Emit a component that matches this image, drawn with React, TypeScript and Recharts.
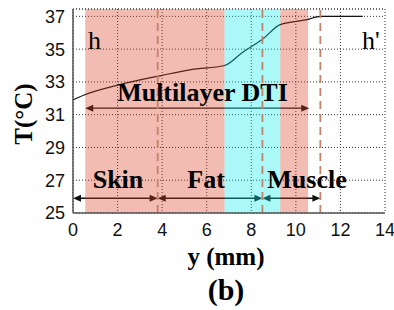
import React from 'react';
import { LineChart, Line, XAxis, YAxis, CartesianGrid, ReferenceArea, ReferenceLine, ReferenceDot } from 'recharts';

const depthMm = [0, 0.5, 2, 4, 5.3, 6.8, 7.6, 8.5, 9.3, 10.5, 11.1, 13.0];
const tempC = [31.9, 32.2, 32.8, 33.4, 33.75, 34.0, 34.8, 35.6, 36.5, 36.8, 37.0, 37.0];
const xTicks = [0, 2, 4, 6, 8, 10, 12, 14];
const yTicks = [25, 27, 29, 31, 33, 35, 37];
const yTop = 37.45;

const regionStarts = [0.55, 6.8, 9.3];
const regionEnds = [6.8, 9.3, 10.55];
const regionColors = ['#DA4023', '#0CEBEB', '#DA4023'];

const boundaries = [3.8, 8.5, 11.1];

const layerNames = ['Skin', 'Fat', 'Muscle'];
const layerFrom = [0, 3.8, 8.5];
const layerTo = [3.8, 8.5, 11.1];
const layerLabelX = [2.02, 5.97, 10.5];
const layerArrowT = 25.9;
const layerLabelT = 26.53;

const dtiLabel = 'Multilayer DTI';
const dtiFrom = 0.55;
const dtiTo = 10.6;
const dtiT = 31.4;
const dtiLabelX = 5.81;
const dtiLabelT = 31.82;

const hLabels = ['h', "h'"];
const hLabelX = [0.67, 12.97];
const hLabelT = 35.0;

const data = depthMm.map((d, i) => ({ y: d, t: tempC[i] }));

const serif = '"Liberation Serif", "Times New Roman", serif';
const sans = '"Liberation Sans", Arial, sans-serif';

const arrowShape = (color: string) => (props: any) => {
  const { x1, y1, x2, y2 } = props;
  const L = 8;
  const W = 3.5;
  return (
    <g>
      <line x1={x1 + 4} y1={y1} x2={x2 - 4} y2={y2} stroke={color} strokeWidth={1.3} />
      <polygon points={`${x1},${y1} ${x1 + L},${y1 - W} ${x1 + L},${y1 + W}`} fill={color} />
      <polygon points={`${x2},${y2} ${x2 - L},${y2 - W} ${x2 - L},${y2 + W}`} fill={color} />
    </g>
  );
};

const textShape = (txt: string, size: number, bold: boolean, anchor: string) => (props: any) => (
  <text
    x={props.cx}
    y={props.cy}
    textAnchor={anchor}
    fontFamily={serif}
    fontWeight={bold ? 'bold' : 'normal'}
    fontSize={size}
    fill="#000"
  >
    {txt}
  </text>
);

export default function App() {
  return (
    <div style={{ position: 'absolute', left: 0, top: 0, background: '#fff' }}>
      <LineChart width={394} height={310} data={data} margin={{ top: 9, right: 9, left: 13, bottom: 67 }}>
        <CartesianGrid stroke="#333" strokeDasharray="1 2" strokeWidth={1} />
        <XAxis
          dataKey="y"
          type="number"
          domain={[0, 14]}
          ticks={xTicks}
          height={30}
          tickSize={0}
          tickMargin={10}
          stroke="#555"
          strokeWidth={1.5}
          tick={{ fill: '#111', fontSize: 18, fontFamily: sans }}
          label={{
            content: (p: any) => {
              const vb = p.viewBox;
              const cx = vb.x + vb.width / 2 - 3;
              return (
                <g>
                  <text x={cx} y={vb.y + 52} textAnchor="middle" fontFamily={serif} fontWeight="bold" fontSize={25} fill="#000">y (mm)</text>
                  <text x={cx} y={vb.y + 87} textAnchor="middle" fontFamily={serif} fontWeight="bold" fontSize={30} fill="#000">(b)</text>
                </g>
              );
            },
          }}
        />
        <YAxis
          type="number"
          domain={[25, yTop]}
          ticks={yTicks}
          width={60}
          tickSize={0}
          tickMargin={8}
          stroke="#555"
          strokeWidth={1.5}
          allowDataOverflow
          tick={{ fill: '#111', fontSize: 18, fontFamily: sans }}
          label={{
            content: () => (
              <text x={32} y={114} transform="rotate(-90 32 114)" textAnchor="middle" fontFamily={serif} fontWeight="bold" fontSize={25} fill="#000">T(°C)</text>
            ),
          }}
        />
        <ReferenceLine y={yTop} stroke="#333" strokeDasharray="1 2" />
        <Line type="monotone" dataKey="t" stroke="#111" strokeWidth={1.2} dot={false} isAnimationActive={false} />
        <ReferenceLine segment={[{ x: dtiFrom, y: dtiT }, { x: dtiTo, y: dtiT }]} shape={arrowShape('#111')} zIndex={400} />
        {layerNames.map((n, i) => (
          <ReferenceLine
            key={'a' + n}
            segment={[{ x: layerFrom[i], y: layerArrowT }, { x: layerTo[i], y: layerArrowT }]}
            shape={arrowShape('#111')}
            zIndex={400}
          />
        ))}
        {regionStarts.map((s, i) => (
          <ReferenceArea key={'r' + i} x1={s} x2={regionEnds[i]} y1={25} y2={yTop} fill={regionColors[i]} fillOpacity={0.35} stroke="none" zIndex={450} />
        ))}
        {boundaries.map((b) => (
          <ReferenceLine key={'b' + b} x={b} stroke="#C4826C" strokeWidth={1.8} strokeDasharray="8 5" zIndex={460} />
        ))}
        {hLabels.map((h, i) => (
          <ReferenceDot key={'h' + i} x={hLabelX[i]} y={hLabelT} r={0} shape={textShape(h, 26, false, 'start')} zIndex={700} />
        ))}
        <ReferenceDot x={dtiLabelX} y={dtiLabelT} r={0} shape={textShape(dtiLabel, 26, true, 'middle')} zIndex={700} />
        {layerNames.map((n, i) => (
          <ReferenceDot key={'l' + n} x={layerLabelX[i]} y={layerLabelT} r={0} shape={textShape(n, 26, true, 'middle')} zIndex={700} />
        ))}
      </LineChart>
    </div>
  );
}
